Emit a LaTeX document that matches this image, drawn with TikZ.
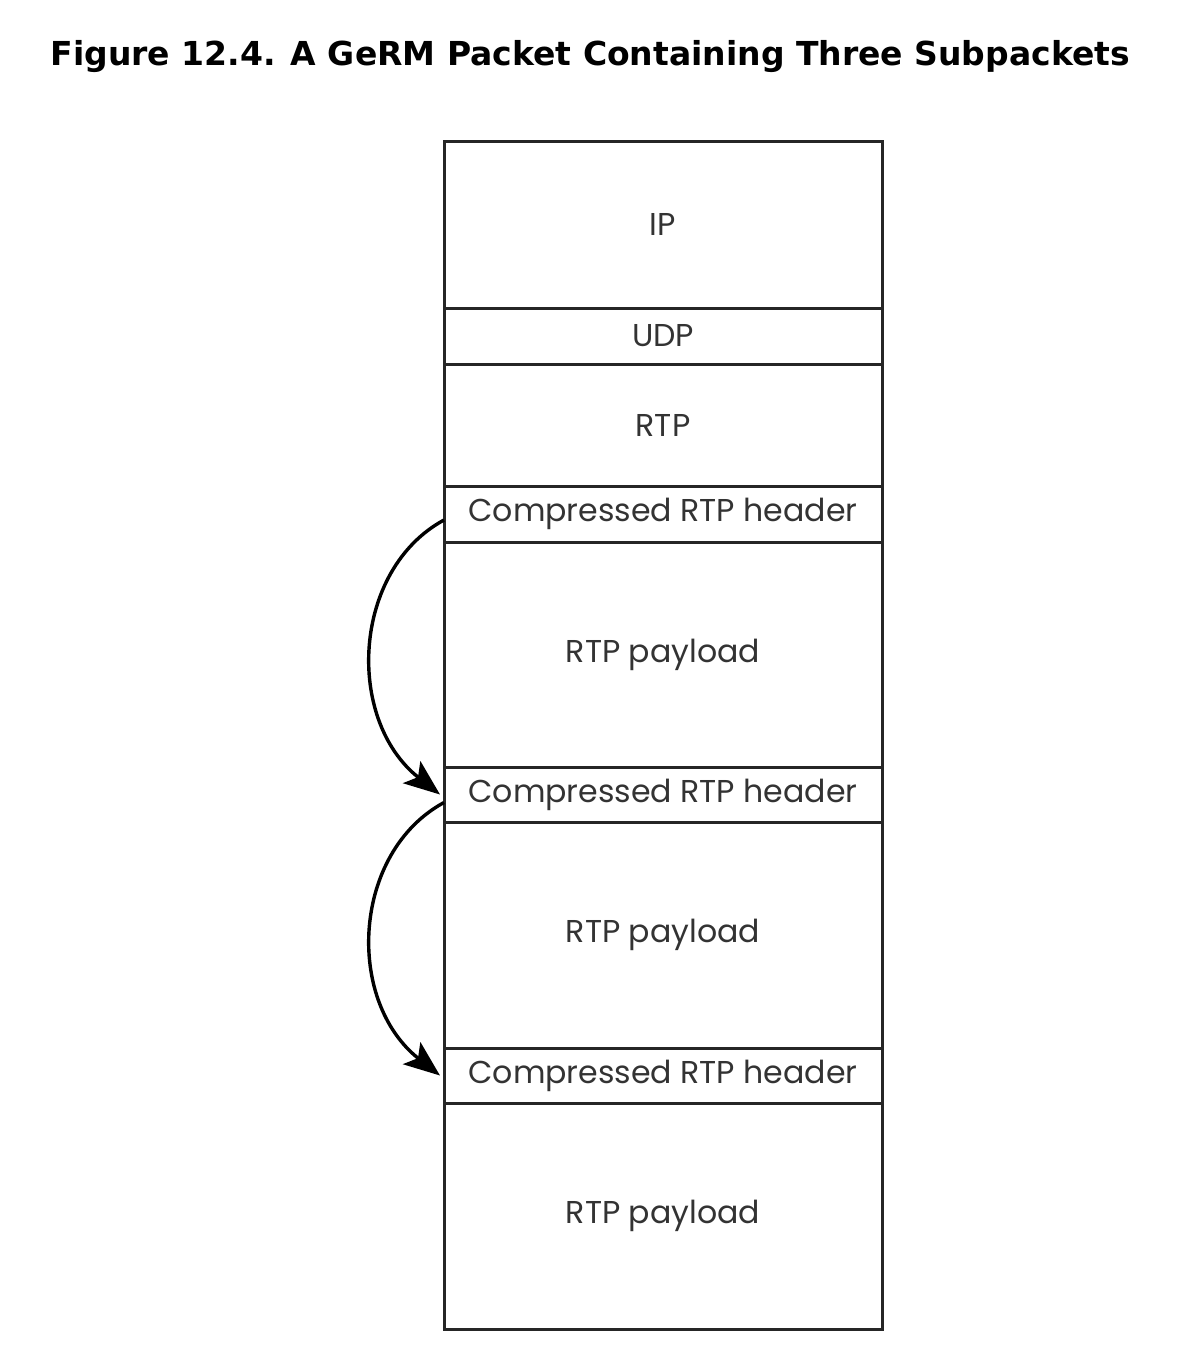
\documentclass[tikz,border=0pt]{standalone}
\usepackage{fontspec}
\usetikzlibrary{arrows.meta}
\newfontfamily\titlefont{DejaVu Sans}
\newfontfamily\boxfont{Poppins}
\begin{document}
\begin{tikzpicture}[x=1pt,y=-1pt,
  layer/.style={draw=black!85,line width=3pt,minimum width=438pt,inner sep=0pt,outer sep=0pt,
    font=\boxfont\fontsize{31.6}{38}\selectfont,text=black!80},
  hop/.style={-{Stealth[length=36pt,width=28pt,inset=8pt]},line width=3.4pt,black}]
\useasboundingbox (0,0) rectangle (1202,1368);
\node[anchor=base west,font=\titlefont\bfseries\fontsize{33}{40}\selectfont] (title) at (47,65) {Figure 12.4. A GeRM Packet Containing Three Subpackets};
\node[layer,minimum height=167pt] (ip) at (663,224.5) {IP};
\node[layer,minimum height=56pt] (udp) at (663,336) {UDP};
\node[layer,minimum height=122pt] (rtp) at (663,425) {RTP};
\node[layer,minimum height=56pt] (c1) at (663,514) {Compressed RTP header};
\node[layer,minimum height=225pt] (p1) at (663,654.5) {RTP payload};
\node[layer,minimum height=55pt] (c2) at (663,794.5) {Compressed RTP header};
\node[layer,minimum height=226pt] (p2) at (663,935) {RTP payload};
\node[layer,minimum height=55pt] (c3) at (663,1075.5) {Compressed RTP header};
\node[layer,minimum height=226pt] (p3) at (663,1216) {RTP payload};
\draw[hop] ([yshift=-6pt]c1.west) .. controls +(-92,50) and +(-95,-75) .. ([xshift=-4pt]c2.west);
\draw[hop] ([yshift=-8pt]c2.west) .. controls +(-92,50) and +(-95,-75) .. ([xshift=-4pt]c3.west);
\end{tikzpicture}
\end{document}
